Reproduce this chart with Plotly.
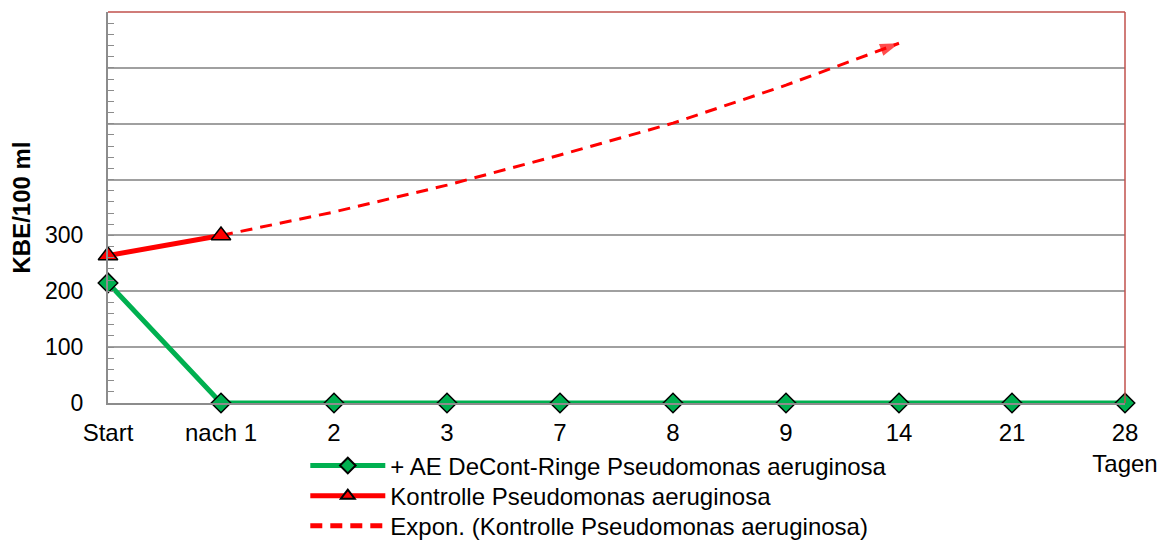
import plotly.graph_objects as go

categories = ["Start", "nach 1", "2", "3", "7", "8", "9", "14", "21", "28"]
tick_labels = ["Start", "nach 1", "2", "3", "7", "8", "9", "14", "21", "28<br>Tagen"]

decont_values = [215, 0, 0, 0, 0, 0, 0, 0, 0, 0]
kontrolle_cats = ["Start", "nach 1"]
kontrolle_values = [264, 300]

trend_cats = ["nach 1", "2", "3", "7", "8", "9", "14"]
trend_values = [300, 342, 390, 444, 501, 569, 644]

y_tickvals = [0, 100, 200, 300, 400, 500, 600, 700]
y_ticktext = ["0", "100", "200", "300", "", "", "", ""]

names = [
    "+ AE DeCont-Ringe Pseudomonas aeruginosa",
    "Kontrolle Pseudomonas aeruginosa",
    "Expon. (Kontrolle Pseudomonas aeruginosa)",
]

GREEN = "#00b050"
RED = "#ff0000"
FONT = "Liberation Sans, Arial, sans-serif"

fig = go.Figure()

fig.add_trace(go.Scatter(
    x=trend_cats, y=trend_values, mode="lines", name=names[2],
    line=dict(color=RED, width=3, dash="12px,8px"),
    legend="legend3", cliponaxis=False,
))
fig.add_trace(go.Scatter(
    x=trend_cats[-2:], y=trend_values[-2:], mode="markers", showlegend=False,
    marker=dict(symbol="arrow", angleref="previous", size=[0, 20], color=RED,
                line=dict(width=0)),
    cliponaxis=False,
))
fig.add_trace(go.Scatter(
    x=categories, y=decont_values, mode="lines+markers", name=names[0],
    line=dict(color=GREEN, width=5),
    marker=dict(symbol="diamond", size=15, color=GREEN, line=dict(color="black", width=1.5)),
    legend="legend", cliponaxis=False,
))
fig.add_trace(go.Scatter(
    x=kontrolle_cats, y=kontrolle_values, mode="lines+markers", name=names[1],
    line=dict(color=RED, width=5),
    marker=dict(symbol="triangle-up", size=17, color=RED, line=dict(color="black", width=1.5)),
    legend="legend2", cliponaxis=False,
))

# red top/right border of plot area
fig.add_shape(type="line", xref="paper", yref="paper", x0=0, x1=1, y0=1, y1=1,
              line=dict(color="#c0504d", width=1.5))
fig.add_shape(type="line", xref="paper", yref="paper", x0=1, x1=1, y0=0, y1=1,
              line=dict(color="#c0504d", width=1.5))

legend_style = dict(
    x=0.194, xanchor="left", yanchor="middle",
    font=dict(size=24), itemwidth=75, itemsizing="constant",
    bgcolor="rgba(0,0,0,0)",
)

fig.update_layout(
    width=1158, height=533,
    margin=dict(l=100, r=41, t=4, b=138, autoexpand=False),
    paper_bgcolor="white", plot_bgcolor="white",
    font=dict(family=FONT, size=24, color="black"),
    showlegend=True,
    legend=dict(legend_style, y=-0.161),
    legend2=dict(legend_style, y=-0.238),
    legend3=dict(legend_style, y=-0.315),
    xaxis=dict(
        type="category", categoryorder="array", categoryarray=categories,
        range=[0, len(categories) - 1],
        tickvals=categories, ticktext=tick_labels,
        showgrid=False, zeroline=False,
        showline=True, linecolor="#8c8c8c", linewidth=2,
        ticks="", ticklabelstandoff=7, automargin=False,
        tickfont=dict(size=24),
    ),
    yaxis=dict(
        range=[0, 700],
        tickvals=y_tickvals, ticktext=y_ticktext,
        showgrid=True, gridcolor="#a0a0a0", gridwidth=1.5,
        zeroline=False, automargin=False,
        showline=True, linecolor="#8c8c8c", linewidth=2,
        ticks="inside", ticklen=6, tickcolor="#8c8c8c", tickwidth=1,
        minor=dict(dtick=20, ticks="inside", ticklen=6, tickcolor="#8c8c8c", tickwidth=1,
                   showgrid=False),
        ticklabelstandoff=18,
        tickfont=dict(size=23),
        title=dict(text="<b>KBE/100 ml</b>", font=dict(size=24), standoff=12),
    ),
)

fig.write_html("out.html")
